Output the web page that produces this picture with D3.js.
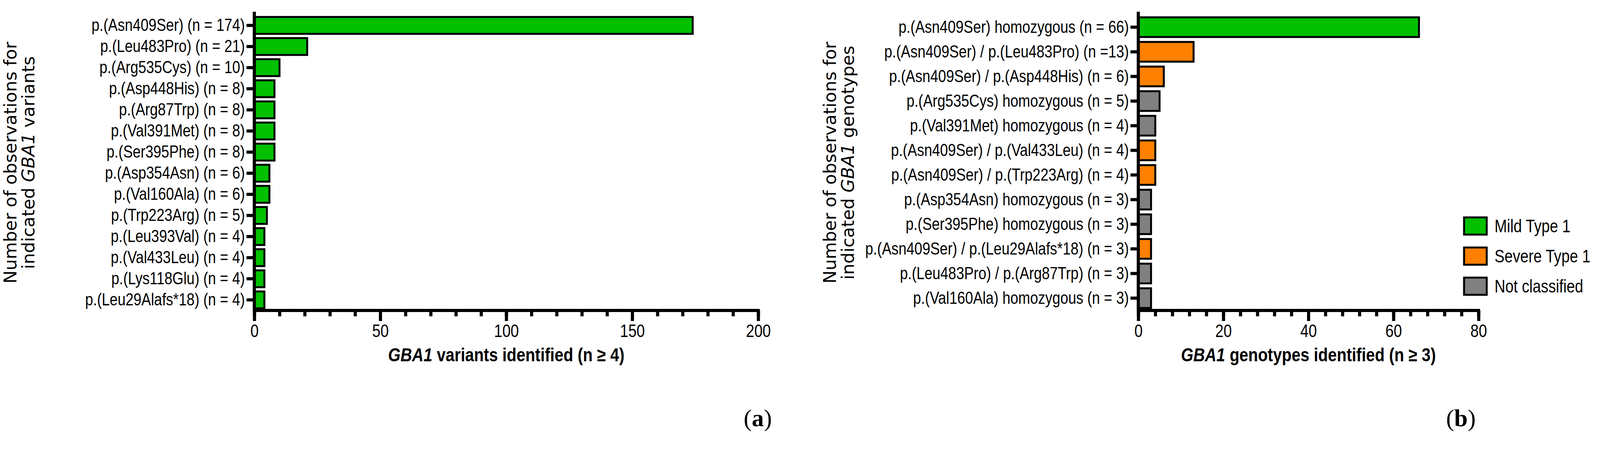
<!DOCTYPE html>
<html><head><meta charset="utf-8">
<script src="https://cdn.jsdelivr.net/npm/d3@7"></script>
<style>body{margin:0;background:#fff}</style></head>
<body><svg id="c" width="4179" height="1156"></svg>
<script>
const variantLabels=["p.(Asn409Ser) (n = 174)","p.(Leu483Pro) (n = 21)","p.(Arg535Cys) (n = 10)","p.(Asp448His) (n = 8)","p.(Arg87Trp) (n = 8)","p.(Val391Met) (n = 8)","p.(Ser395Phe) (n = 8)","p.(Asp354Asn) (n = 6)","p.(Val160Ala) (n = 6)","p.(Trp223Arg) (n = 5)","p.(Leu393Val) (n = 4)","p.(Val433Leu) (n = 4)","p.(Lys118Glu) (n = 4)","p.(Leu29Alafs*18) (n = 4)"];
const variantValues=[174,21,10,8,8,8,8,6,6,5,4,4,4,4];
const genoLabels=["p.(Asn409Ser) homozygous (n = 66)","p.(Asn409Ser) / p.(Leu483Pro) (n =13)","p.(Asn409Ser) / p.(Asp448His) (n = 6)","p.(Arg535Cys) homozygous (n = 5)","p.(Val391Met) homozygous (n = 4)","p.(Asn409Ser) / p.(Val433Leu) (n = 4)","p.(Asn409Ser) / p.(Trp223Arg) (n = 4)","p.(Asp354Asn) homozygous (n = 3)","p.(Ser395Phe) homozygous (n = 3)","p.(Asn409Ser) / p.(Leu29Alafs*18) (n = 3)","p.(Leu483Pro) / p.(Arg87Trp) (n = 3)","p.(Val160Ala) homozygous (n = 3)"];
const genoValues=[66,13,6,5,4,4,4,3,3,3,3,3];
const genoClass=["Mild Type 1","Severe Type 1","Severe Type 1","Not classified","Not classified","Severe Type 1","Severe Type 1","Not classified","Not classified","Severe Type 1","Not classified","Not classified"];
const classes=["Mild Type 1","Severe Type 1","Not classified"];
const classColors=["#00c000","#ff8000","#808080"];
const color=d3.scaleOrdinal(classes,classColors);
const svg=d3.select("#c");
const FONT="'Liberation Sans',Arial,sans-serif";
function condense(sel,f){sel.each(function(){const L=this.getComputedTextLength();if(L>0){d3.select(this).attr("textLength",L*f).attr("lengthAdjust","spacingAndGlyphs");}});}

function panel(o){
  const g=svg.append("g");
  const x=d3.scaleLinear().domain([0,o.max]).range([o.x0,o.x1]);
  const y=d3.scaleBand().domain(o.labels).range([o.y0,o.y1]).paddingInner(0.2).paddingOuter(0.1);
  g.selectAll("rect").data(o.values).join("rect")
    .attr("x",x(0)).attr("y",(d,i)=>y(o.labels[i]))
    .attr("width",d=>x(d)-x(0)).attr("height",y.bandwidth())
    .attr("fill",(d,i)=>o.fill(i)).attr("stroke","#000").attr("stroke-width",5);
  const ya=g.append("g").attr("transform",`translate(${o.x0},0)`)
    .call(d3.axisLeft(y).tickSize(20).tickPadding(4));
  ya.select(".domain").attr("d",`M0,${o.y0-8}V${o.y1}`).attr("stroke-width",8);
  ya.selectAll(".tick line").attr("stroke-width",8);
  ya.selectAll("text").attr("font-family",FONT).attr("font-size",44).attr("fill","#000").call(condense,0.83);
  const xm=g.append("g").attr("transform",`translate(0,${o.y1})`)
    .call(d3.axisBottom(x).tickValues(d3.range(0,o.max+0.001,o.minor)).tickSize(15).tickFormat(""));
  xm.selectAll("line").attr("stroke-width",8);
  xm.select(".domain").remove();
  const xa=g.append("g").attr("transform",`translate(0,${o.y1})`)
    .call(d3.axisBottom(x).tickValues(d3.range(0,o.max+0.001,o.major)).tickSize(27).tickSizeOuter(0).tickPadding(8));
  xa.select(".domain").attr("d",`M${o.x0-4},0H${o.x1+4}`).attr("stroke-width",8);
  xa.selectAll(".tick line").attr("stroke-width",8);
  xa.selectAll("text").attr("font-family",FONT).attr("font-size",46).attr("fill","#000").call(condense,0.83);
  const t=g.append("text").attr("x",(o.x0+o.x1)/2).attr("y",o.y1+130).attr("text-anchor","middle")
    .attr("font-family",FONT).attr("font-weight","bold").attr("font-size",48);
  t.append("tspan").attr("font-style","italic").text("GBA1");
  t.append("tspan").text(o.xtitle);
  condense(t,0.85);
  const yt=g.append("text").attr("transform",`translate(${o.ytx},${(o.y0+o.y1)/2}) rotate(-90)`)
    .attr("text-anchor","middle").attr("font-family","'DejaVu Sans',sans-serif").attr("font-size",45);
  yt.append("tspan").attr("x",0).attr("dy",0).text("Number of observations for");
  const l2=yt.append("tspan").attr("x",0).attr("dy",46).text("indicated ");
  l2.append("tspan").attr("font-style","italic").text("GBA1");
  l2.append("tspan").text(o.ywhat);
  const p=svg.append("text").attr("x",o.letterX).attr("y",1090).attr("text-anchor","middle")
    .attr("font-family","'Liberation Serif',serif").attr("font-size",62);
  p.append("tspan").text("(");p.append("tspan").attr("font-weight","bold").text(o.letter);p.append("tspan").text(")");
}
panel({labels:variantLabels,values:variantValues,max:200,major:50,minor:10,x0:651,x1:1941,y0:38,y1:794,
  fill:()=>"#00c000",xtitle:" variants identified (n ≥ 4)",ytx:42,ywhat:" variants",letter:"a",letterX:1940});
panel({labels:genoLabels,values:genoValues,max:80,major:20,minor:4,x0:2914,x1:3785,y0:38,y1:794,
  fill:i=>color(genoClass[i]),xtitle:" genotypes identified (n ≥ 3)",ytx:2140,ywhat:" genotypes",letter:"b",letterX:3740});
const lg=svg.append("g");
classes.forEach((c,i)=>{
  const yy=572+i*77;
  lg.append("rect").attr("x",3748).attr("y",yy-16).attr("width",58).attr("height",44)
    .attr("fill",color(c)).attr("stroke","#000").attr("stroke-width",5);
  lg.append("text").attr("x",3826).attr("y",yy+22).attr("font-family",FONT).attr("font-size",46).text(c).call(condense,0.83);
});
</script></body></html>
